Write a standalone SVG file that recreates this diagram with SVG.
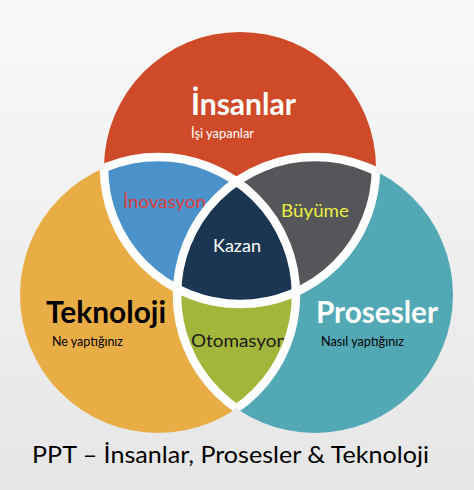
<svg xmlns="http://www.w3.org/2000/svg" width="474" height="490" viewBox="0 0 474 490">
<defs>
<linearGradient id="bg" x1="0" y1="0" x2="0" y2="1">
<stop offset="0" stop-color="#f9f9f9"/>
<stop offset="1" stop-color="#e6e6e6"/>
</linearGradient>
<circle id="shR" cx="240" cy="168" r="136"/>
<circle id="shO" cx="158" cy="295" r="138"/>
<circle id="shT" cx="315" cy="295" r="138"/>
<clipPath id="cR"><use href="#shR"/></clipPath>
<clipPath id="cO"><use href="#shO"/></clipPath>
<clipPath id="cOT"><use href="#shO"/><use href="#shT"/></clipPath>
<clipPath id="cRT"><use href="#shR"/><use href="#shT"/></clipPath>
<clipPath id="cRO"><use href="#shR"/><use href="#shO"/></clipPath>
</defs>
<style>
text{font-family:Lato,"Liberation Sans",Arial,sans-serif;text-anchor:start}
.big{font-weight:bold;font-size:31px}
.sub{font-size:13.5px}
.mid{font-size:18px}
.gap{fill:none;stroke:#ffffff;stroke-width:8.5}
</style>
<rect x="0" y="0" width="474" height="490" fill="url(#bg)"/>
<g id="insanlar">
<use href="#shR" fill="#cf4a29"/>
<text class="big" x="191" y="115" fill="#ffffff" textLength="105" lengthAdjust="spacingAndGlyphs">İnsanlar</text>
<text class="sub" x="191" y="138" fill="#ffffff" textLength="63" lengthAdjust="spacingAndGlyphs">İşi yapanlar</text>
</g>
<g id="teknoloji">
<use href="#shO" fill="#e9ad45"/>
<text class="big" x="46" y="323" fill="#000000" textLength="120" lengthAdjust="spacingAndGlyphs">Teknoloji</text>
<text class="sub" x="52" y="346" fill="#000000" textLength="71" lengthAdjust="spacingAndGlyphs">Ne yaptığınız</text>
</g>
<g id="prosesler">
<use href="#shT" fill="#52a9b5"/>
<text class="big" x="316" y="323" fill="#ffffff" textLength="122" lengthAdjust="spacingAndGlyphs">Prosesler</text>
<text class="sub" x="321" y="346" fill="#000000" textLength="83" lengthAdjust="spacingAndGlyphs">Nasıl yaptığınız</text>
</g>
<g id="inovasyon">
<use href="#shO" fill="#4a92c9" clip-path="url(#cR)"/>
<text class="mid" x="123" y="208" fill="#e03a3a" textLength="83" lengthAdjust="spacingAndGlyphs">İnovasyon</text>
</g>
<g id="buyume">
<use href="#shT" fill="#545659" clip-path="url(#cR)"/>
<text class="mid" x="281" y="217" fill="#eef040" textLength="68" lengthAdjust="spacingAndGlyphs">Büyüme</text>
</g>
<g id="otomasyon">
<use href="#shT" fill="#a3b53a" clip-path="url(#cO)"/>
<text class="mid" x="191" y="347" fill="#1a1a1a" textLength="96" lengthAdjust="spacingAndGlyphs">Otomasyon</text>
</g>
<g id="kazan">
<g clip-path="url(#cR)"><use href="#shT" fill="#1b3653" clip-path="url(#cO)"/></g>
</g>
<g id="gaps">
<use href="#shR" class="gap" clip-path="url(#cOT)"/>
<use href="#shO" class="gap" clip-path="url(#cRT)"/>
<use href="#shT" class="gap" clip-path="url(#cRO)"/>
</g>
<text id="kazan-label" class="mid" x="213" y="252" fill="#ffffff" textLength="48" lengthAdjust="spacingAndGlyphs">Kazan</text>
<text id="title" x="32" y="463" font-size="23" fill="#000000" textLength="397" lengthAdjust="spacingAndGlyphs">PPT – İnsanlar, Prosesler &amp; Teknoloji</text>
</svg>
